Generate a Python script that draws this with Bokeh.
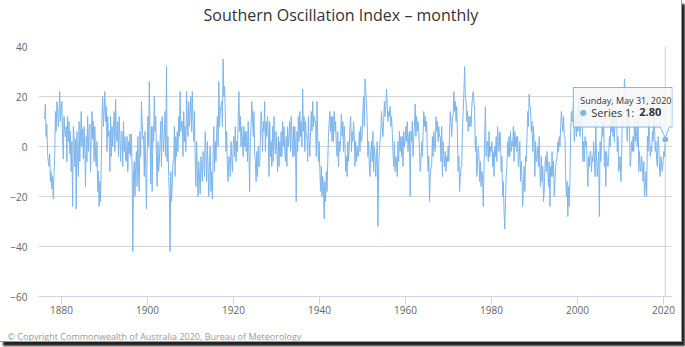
from bokeh.plotting import figure
from bokeh.models import Range1d, FixedTicker, Span, Title
from bokeh.embed import file_html
from bokeh.resources import INLINE
from bokeh.core.properties import value

# ---------------- data (bi-monthly readings: Jan, Mar, May, Jul, Sep, Nov) ----------------
MONTHS = [1, 3, 5, 7, 9, 11]

soi_1870s = [11, 17, 4, 9, -2, -6,  -8, -3, -14, -10, -17, -12,
             -21, -12, -4, 14, 6, 18,  16, 8, 12, 22, 10, 15]
soi_1880s = [18, 3, -5, 12, 6, 4,  8, -6, 12, 2, 10, -3,  6, -10, 2, -24, 8, 4,
             -8, 3, -25, 6, -4, -12,  10, -6, 4, 14, 0, 7,  -5, 8, -2, -16, 4, -6,
             12, -2, 6, 9, -10, 3,  14, 3, 10, -6, 8, -4,  -8, 2, -18, -10, -24, -14,
             -22, -6, 12, 20, 8, 14]
soi_1890s = [22, 10, 16, -2, 12, 4,  6, -10, 12, -4, 8, 0,  8, 14, -2, 19, 6, 2,
             10, -4, 12, 3, -6, 6,  6, -8, 10, -2, 4, -5,  -6, 4, -10, 2, -3, 5,
             -4, 5, -8, -42, -12, -6,  -20, -8, -2, -16, 4, -10,  -18, 6, -4, 18, 10, 3,
             4, -12, 6, -8, -25, -4]
soi_1900s = [12, 0, 26, 4, -15, 8,  -18, 8, 2, 20, 6, 12,  -4, -16, 2, -10, -6, 2,
             10, -8, 12, 4, -2, 6,  14, -4, 32, -6, 4, -12,  -20, -42, -10, -22, -15, -6,
             -6, 8, -12, 4, -4, 6,  -2, 12, 4, 22, 6, 10,  10, -4, 14, 2, 8, -2,
             22, 10, 4, 18, 8, 14]
soi_1910s = [20, 6, 22, 10, 2, 14,  -4, -16, 2, -10, -20, -6,  -12, -19, -4, -8, -14, -2,
             -4, -12, 6, -2, -14, 2,  -8, -20, -6, 0, -18, -10,  -21, -4, 8, -10, 2, -6,
             6, 12, 0, 26, 8, 14,  16, 18, 8, 35, 20, 24,  14, -2, 6, -10, -14, -4,
             -6, -12, 2, -4, -10, 0]
soi_1920s = [4, -4, 8, -6, 2, -2,  10, 22, 6, 12, 0, 8,  2, -4, 8, 0, 6, -2,
             6, -6, 10, -2, -18, 4,  8, 18, 12, 4, 14, -2,  -6, -14, -2, -12, 0, -8,
             -8, 4, 14, 8, -2, 10,  6, 18, -2, 10, 4, 12,  6, -12, 10, -4, 2, -8,
             8, -6, 12, 2, -3, 6]
soi_1930s = [-2, -10, 4, -8, 2, -4,  6, -4, 10, 0, 8, -2,  -6, 4, -8, 8, 0, 4,
             10, -2, 12, 4, -4, 8,  -4, 8, 0, -22, 6, -2,  12, 2, 14, 4, 10, 0,
             23, 6, 12, -2, 10, 4,  4, -6, 12, 2, -4, 6,  14, 6, 18, 8, 12, 10,
             10, -4, 18, 4, -6, 2]
soi_1940s = [-10, -18, -8, -20, -12, -16,  -29, -14, -22, -10, -18, -6,  4, 10, 14, 6, 12, 2,
             12, 2, 14, 6, 10, 0,  -4, 6, -8, 2, -2, 4,  13, 4, 10, -2, 8, 2,
             -10, -4, -12, 2, -6, 0,  8, 12, -2, 6, 2, 10,  4, -8, 2, -6, 0, -4,
             -4, 6, -2, 8, 2, 4]
soi_1950s = [14, 20, 8, 27, 22, 18,  10, -4, 2, -8, -12, -2,  2, -6, 6, -10, 0, -4,
             -12, -4, 2, -32, -8, -2,  2, 6, 14, 8, 4, 10,  18, 12, 16, 23, 16, 10,
             14, 12, 16, 8, 12, 6,  -2, -8, 2, -10, -4, -6,  -12, 2, -6, 6, -2, 4,
             -4, 4, -8, 6, 0, 2]
soi_1960s = [8, 2, 10, -2, 4, 6,  -20, 6, 2, 10, -4, 4,  8, 17, 4, 12, 6, 10,
             6, -2, -10, -6, 2, -4,  4, 14, 8, 12, 6, 10,  -2, -10, -4, -22, -12, -8,
             -8, 4, -4, 6, 0, -2,  12, 6, 10, 2, 8, 4,  4, -6, 8, -12, 2, -4,
             -8, -2, -10, -4, -6, 0]
soi_1970s = [-6, 6, 14, 10, 4, 12,  12, 22, 14, 18, 10, 16,  4, -10, -4, -18, -12, -8,
             -8, 8, 14, 22, 32, 20,  18, 10, 14, 6, 12, 8,  12, 8, 16, 20, 22, 18,
             14, -2, 4, -12, -6, 0,  -4, -14, -6, -16, -10, -12,  -24, -8, 4, 16, -4, 2,
             2, -6, 6, -4, 0, -2]
soi_1980s = [2, -8, -2, -12, 0, -4,  4, -6, 8, 2, -2, 6,  4, -10, -4, -20, -14, -26,
             -33, -22, -12, -8, 2, -4,  4, -4, 6, -2, 2, 0,  8, -6, 6, 0, 4, -2,
             4, -8, -4, 2, -14, -6,  -12, -24, -16, -8, -18, -4,  -6, 4, 14, 8, 21, 16,
             16, 6, 10, -2, 8, 2]
soi_1990s = [-12, 2, -6, -4, 0, -8,  4, -10, -16, -4, -14, -8,  -22, -18, -8, -4, -10, -2,
             -10, -16, -6, -24, -8, -12,  -2, -12, -6, -20, -14, -8,  -6, -4, 2, -2, 4, 0,
             8, 14, 10, 6, 12, 4,  4, -12, -20, -14, -28, -16,  -24, -12, 6, 14, 10, 12,
             18, 2, 8, 12, 4, 14]
soi_2000s = [6, 18, 10, 4, 10, 12,  14, -6, 2, -6, 4, 0,  2, -8, -16, -4, -8, -2,
             -2, -10, -4, -6, 2, -4,  -12, 10, -4, -12, -8, -2,  -28, 2, -6, 2, 10, 4,
             12, -8, -2, -16, -2, -6,  -8, -4, 4, 0, 10, 6,  20, 4, 12, 2, 14, 10,
             14, -2, 4, -10, -8, -4]
soi_2010s = [-14, -6, 12, 20, 18, 27,  22, 20, 8, 2, 12, 18,  6, -8, -4, 2, -2, 4,
             -2, 10, 2, 8, 4, 0,  12, -10, -2, -8, -10, -4,  -8, -14, -6, -20, -16, -10,
             -20, 4, -2, 12, 4, -4,  0, -2, 6, 2, 12, 8,  -2, 2, -6, -8, 4, 0,
             -10, -12, -4, -8, -10, -6]
soi_2020s = [-2, -4, 2.8]

decade_starts = [1876, 1880, 1890, 1900, 1910, 1920, 1930, 1940, 1950, 1960,
                 1970, 1980, 1990, 2000, 2010, 2020]
decade_values = [soi_1870s, soi_1880s, soi_1890s, soi_1900s, soi_1910s, soi_1920s,
                 soi_1930s, soi_1940s, soi_1950s, soi_1960s, soi_1970s, soi_1980s,
                 soi_1990s, soi_2000s, soi_2010s, soi_2020s]

x_ticks = [1880, 1900, 1920, 1940, 1960, 1980, 2000, 2020]
y_ticks = [-60, -40, -20, 0, 20, 40]

title_text = "Southern Oscillation Index \u2013 monthly"
credit_text = "\u00a9 Copyright Commonwealth of Australia 2020, Bureau of Meteorology"
tip_header = "Sunday, May 31, 2020"
tip_series = "Series 1:"
tip_value = "2.80"

# ---------------- build series ----------------
xs, ys = [], []
for start, vals in zip(decade_starts, decade_values):
    for i, v in enumerate(vals):
        year = start + i // 6
        month = MONTHS[i % 6]
        xs.append(year + month / 12.0)
        ys.append(v)

SERIES = "#7cb5ec"
W, H = 682, 342
LEFT, RIGHT, TOP, BOTTOM = 38, 10, 45, 44
X0, X1 = 1874.65, 2022.09
Y0, Y1 = -60, 40
FW, FH = W - LEFT - RIGHT, H - TOP - BOTTOM
XPX = FW / (X1 - X0)
YPX = FH / (Y1 - Y0)

p = figure(width=W, height=H, output_backend="svg", toolbar_location=None, title=None,
           x_range=Range1d(X0, X1), y_range=Range1d(Y0, Y1),
           min_border_left=LEFT, min_border_right=RIGHT,
           min_border_top=TOP, min_border_bottom=BOTTOM,
           background_fill_color="white", border_fill_color="white",
           styles={"box-shadow": "3px 4px 2px #222", "border-right": "1px solid #999",
                   "border-bottom": "1px solid #999"})
p.outline_line_color = None

# title: spacer panel next to the frame, then the title itself
p.add_layout(Title(text=" ", text_font_size="1px", standoff=17), "above")
p.add_layout(Title(text=title_text, align="left", offset=165, text_font="Open Sans",
                   text_font_size="16px", text_font_style="normal",
                   text_color="#333333", standoff=2), "above")

# axes
p.xaxis.ticker = FixedTicker(ticks=x_ticks)
p.xaxis.minor_tick_line_color = None
p.xaxis.major_tick_in = 0
p.xaxis.major_tick_out = 8
p.xaxis.major_tick_line_color = "#ccd6eb"
p.xaxis.axis_line_color = "#ccd6eb"
p.xaxis.major_label_text_font = "Open Sans"
p.xaxis.major_label_text_font_size = "10px"
p.xaxis.major_label_text_color = "#666666"
p.xaxis.major_label_standoff = 1

# credits below the axis, after a small spacer panel
p.add_layout(Title(text=" ", text_font_size="1px", standoff=7.5), "below")
p.add_layout(Title(text=credit_text, align="left", text_font="Open Sans",
                   text_font_size="9px", text_font_style="normal",
                   text_color="#999999", standoff=0, offset=-31), "below")

p.yaxis.ticker = FixedTicker(ticks=y_ticks)
p.yaxis.minor_tick_line_color = None
p.yaxis.major_tick_line_color = None
p.yaxis.axis_line_color = None
p.yaxis.major_tick_out = 0
p.yaxis.major_tick_in = 0
p.yaxis.major_label_text_font = "Open Sans"
p.yaxis.major_label_text_font_size = "10px"
p.yaxis.major_label_text_color = "#666666"
p.yaxis.major_label_standoff = 11

p.xgrid.visible = False
p.ygrid.ticker = FixedTicker(ticks=y_ticks)
p.ygrid.grid_line_color = "#d6d6d6"

# crosshair at hovered point
ax, ay = xs[-1], ys[-1]
p.add_layout(Span(location=ax, dimension="height", line_color="#cccccc",
                  line_width=1, level="underlay"))

p.line(xs, ys, line_color=SERIES, line_width=1)

# hover marker
p.scatter([ax], [ay], size=7, fill_color=SERIES, line_color="white", line_width=1)

# tooltip callout (pixel offsets relative to hovered point)
def dx(px):
    return ax + px / XPX

def dy(py):
    return ay - py / YPX

tx = [dx(-92), dx(7), dx(7), dx(4), dx(0), dx(-5), dx(-92)]
ty = [dy(-52.6), dy(-52.6), dy(-12.6), dy(-12.6), dy(-1.5), dy(-12.6), dy(-12.6)]
p.patch(tx, ty, fill_color="#f7f7f7", fill_alpha=0.9, line_color=SERIES, line_width=1)

p.text([dx(-85)], [dy(-39.6)], text=[tip_header], text_font=value("Open Sans"),
       text_font_size="9px", text_color="#333333", text_baseline="middle")
p.text([dx(-82)], [dy(-27.6)], text=["\u25cf"], text_font=value("DejaVu Sans"),
       text_font_size="8px", text_color=SERIES, text_baseline="middle", text_align="center")
p.text([dx(-74)], [dy(-27.6)], text=[tip_series], text_font=value("Open Sans"),
       text_font_size="11px", text_color="#333333", text_baseline="middle")
p.text([dx(-26)], [dy(-27.6)], text=[tip_value], text_font=value("Open Sans"),
       text_font_size="11px", text_font_style="bold", text_color="#333333",
       text_baseline="middle")

open("out.html", "w").write(file_html(p, INLINE))
